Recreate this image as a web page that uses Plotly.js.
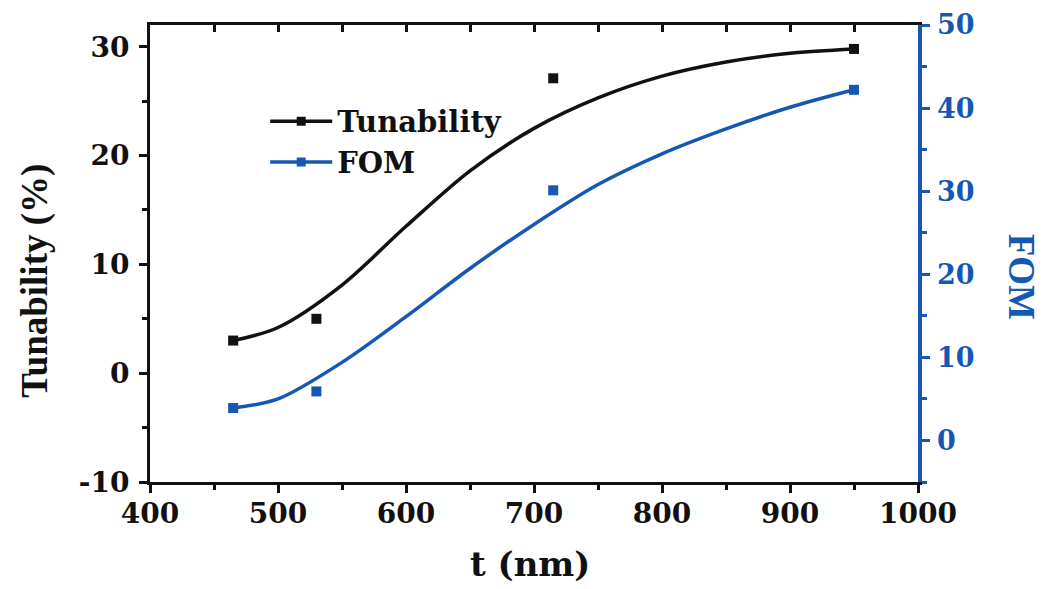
<!DOCTYPE html>
<html>
<head>
<meta charset="utf-8">
<script src="https://cdn.plot.ly/plotly-3.0.1.min.js"></script>
<style>html,body{margin:0;padding:0;background:#fff;}#chart{width:1045px;height:589px;}</style>
</head>
<body>
<div id="chart"></div>
<script>
// Measured data points
const thickness = [465, 530, 715, 950];
const tunability = [3.0, 5.0, 27.1, 29.8];
const fom = [3.9, 5.9, 30.1, 42.2];

// Fitted curves
const fitX = [465, 500, 550, 600, 650, 700, 750, 800, 850, 900, 950];
const tunFit = [3.0, 4.2, 8.1, 13.5, 18.6, 22.5, 25.3, 27.3, 28.6, 29.4, 29.8];
const fomFit = [3.9, 5.0, 9.4, 14.9, 20.7, 26.0, 30.8, 34.5, 37.5, 40.1, 42.2];

const xTicks = [400, 500, 600, 700, 800, 900, 1000];
const yTicks = [-10, 0, 10, 20, 30];
const y2Ticks = [0, 10, 20, 30, 40, 50];

const BLUE = '#1458b4';
const BLACK = '#111111';
const TICKFONT = {family: 'DejaVu Serif', size: 28, color: BLACK, weight: 'bold'};

function legendColors(n, c) {
  const arr = new Array(n).fill('rgba(0,0,0,0)');
  arr[0] = c;
  return arr;
}

const traces = [
  {
    x: fitX, y: tunFit, name: 'Tunability', type: 'scatter', mode: 'lines+markers',
    line: {color: BLACK, width: 3.5, shape: 'spline', smoothing: 0.9},
    marker: {symbol: 'square', size: 9, color: legendColors(fitX.length, BLACK)},
    xaxis: 'x', yaxis: 'y'
  },
  {
    x: fitX, y: fomFit, name: 'FOM', type: 'scatter', mode: 'lines+markers',
    line: {color: BLUE, width: 3.5, shape: 'spline', smoothing: 0.9},
    marker: {symbol: 'square', size: 9, color: legendColors(fitX.length, BLUE)},
    xaxis: 'x', yaxis: 'y2'
  },
  {
    x: thickness, y: tunability, type: 'scatter', mode: 'markers', showlegend: false,
    marker: {symbol: 'square', size: 10, color: BLACK},
    xaxis: 'x2', yaxis: 'y'
  },
  {
    x: thickness, y: fom, type: 'scatter', mode: 'markers', showlegend: false,
    marker: {symbol: 'square', size: 10, color: BLUE},
    xaxis: 'x', yaxis: 'y2'
  }
];

const layout = {
  width: 1045, height: 589,
  margin: {l: 150, r: 127, t: 25, b: 107},
  paper_bgcolor: '#ffffff', plot_bgcolor: '#ffffff',
  showlegend: true,
  legend: {
    x: 0.15, y: 0.845, xanchor: 'left', yanchor: 'top',
    bgcolor: 'rgba(0,0,0,0)', borderwidth: 0,
    itemwidth: 62,
    font: {family: 'DejaVu Serif', size: 29, color: BLACK, weight: 'bold'},
    tracegroupgap: 0
  },
  xaxis: {
    range: [400, 1000], tickvals: xTicks, ticktext: xTicks.map(String),
    ticks: 'outside', ticklen: 8, tickwidth: 3, tickcolor: BLACK,
    minor: {dtick: 50, tick0: 400, ticks: 'outside', ticklen: 5, tickwidth: 3, tickcolor: BLACK},
    showline: true, linewidth: 3, linecolor: BLACK,
    showgrid: false, zeroline: false,
    tickfont: TICKFONT, ticklabelstandoff: -4
  },
  xaxis2: {
    range: [400, 1000], overlaying: 'x', side: 'top',
    dtick: 50, tick0: 400, ticks: 'inside', ticklen: 7, tickwidth: 3, tickcolor: BLACK,
    showline: true, linewidth: 3, linecolor: BLACK,
    showticklabels: false, showgrid: false, zeroline: false
  },
  yaxis: {
    range: [-10, 32], tickvals: yTicks, ticktext: yTicks.map(String),
    ticks: 'outside', ticklen: 8, tickwidth: 3, tickcolor: BLACK,
    minor: {dtick: 5, tick0: 0, ticks: 'outside', ticklen: 5, tickwidth: 3, tickcolor: BLACK},
    showline: true, linewidth: 3, linecolor: BLACK,
    showgrid: false, zeroline: false,
    tickfont: TICKFONT, ticklabelstandoff: 4
  },
  yaxis2: {
    range: [-5, 50], overlaying: 'y', side: 'right',
    tickvals: y2Ticks, ticktext: y2Ticks.map(String),
    ticks: 'outside', ticklen: 8, tickwidth: 3, tickcolor: BLUE,
    minor: {dtick: 5, tick0: 0, ticks: 'outside', ticklen: 5, tickwidth: 3, tickcolor: BLUE},
    showline: true, linewidth: 3.5, linecolor: BLUE,
    showgrid: false, zeroline: false,
    tickfont: {family: 'DejaVu Serif', size: 27, color: BLUE, weight: 'bold'},
    ticklabelstandoff: 2
  },
  annotations: [
    {text: 'Tunability (%)', xref: 'paper', yref: 'paper', x: -0.15, y: 0.44,
     xanchor: 'center', yanchor: 'middle', textangle: -90, showarrow: false,
     font: {family: 'Liberation Serif', size: 37, color: BLACK, weight: 'bold'}},
    {text: 'FOM', xref: 'paper', yref: 'paper', x: 1.135, y: 0.45,
     xanchor: 'center', yanchor: 'middle', textangle: 90, showarrow: false,
     font: {family: 'Liberation Serif', size: 37, color: BLUE, weight: 'bold'}},
    {text: 't (nm)', xref: 'paper', yref: 'paper', x: 0.495, y: -0.18,
     xanchor: 'center', yanchor: 'middle', showarrow: false,
     font: {family: 'DejaVu Serif', size: 34, color: BLACK, weight: 'bold'}}
  ]
};

Plotly.newPlot('chart', traces, layout, {staticPlot: true, displayModeBar: false});
</script>
</body>
</html>
